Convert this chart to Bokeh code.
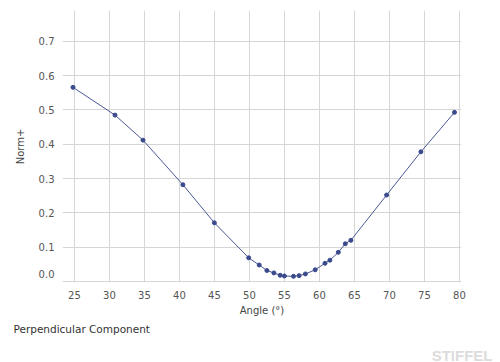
from bokeh.plotting import figure
from bokeh.models import FixedTicker, Range1d, Title
from bokeh.embed import file_html
from bokeh.resources import INLINE

# Data
angles = [24.8, 30.8, 34.8, 40.5, 45.0, 49.9, 51.4, 52.5, 53.5, 54.4, 55.0, 56.3,
          57.1, 58.0, 59.4, 60.8, 61.5, 62.7, 63.7, 64.5, 69.6, 74.5, 79.3]
norm_plus = [0.566, 0.485, 0.412, 0.282, 0.171, 0.069, 0.048, 0.032, 0.025, 0.018,
             0.016, 0.015, 0.017, 0.022, 0.034, 0.053, 0.062, 0.085, 0.110, 0.120,
             0.252, 0.378, 0.493]
x_ticks = [25, 30, 35, 40, 45, 50, 55, 60, 65, 70, 75, 80]
# the "0.0" label sits a little above the bottom edge in the reference
y_ticks = [0.023, 0.1, 0.2, 0.3, 0.4, 0.5, 0.6, 0.7]
y_tick_labels = {0.023: "0.0"}
y_grid = [0.0, 0.1, 0.2, 0.3, 0.4, 0.5, 0.6, 0.7]

title_text = "Perpendicular Component"
x_label = "Angle (°)"
y_label = "Norm+"
watermark = "STIFFEL"

FONT = "DejaVu Sans"
LINE_COLOR = "#4a5894"
MARK_COLOR = "#3b4a8c"
TICK_COLOR = "#555555"

p = figure(width=498, height=360, output_backend="svg", toolbar_location=None,
           x_range=Range1d(23.3, 80.3), y_range=Range1d(-0.003, 0.79),
           frame_width=399, frame_height=272,
           min_border_left=62, min_border_right=37, min_border_top=10,
           min_border_bottom=0)
p.outline_line_color = None
p.background_fill_color = "white"
p.border_fill_color = "white"

p.line(angles, norm_plus, line_color=LINE_COLOR, line_width=1)
p.scatter(angles, norm_plus, size=4, fill_color=MARK_COLOR, line_color=MARK_COLOR)

# Axes
p.xaxis.ticker = FixedTicker(ticks=x_ticks)
p.yaxis.ticker = FixedTicker(ticks=y_ticks)
p.yaxis.major_label_overrides = y_tick_labels
for ax in (p.xaxis[0], p.yaxis[0]):
    ax.axis_line_color = None
    ax.major_tick_line_color = None
    ax.minor_tick_line_color = None
    ax.major_tick_out = 0
    ax.major_tick_in = 0
    ax.major_label_text_font = FONT
    ax.major_label_text_font_size = "10px"
    ax.major_label_text_color = TICK_COLOR
    ax.major_label_standoff = 8
    ax.axis_label_text_font = FONT
    ax.axis_label_text_font_size = "10px"
    ax.axis_label_text_font_style = "normal"
    ax.axis_label_text_color = "#444444"
p.yaxis.axis_label = y_label
p.yaxis.axis_label_standoff = 10

# Grid
p.xgrid.ticker = FixedTicker(ticks=x_ticks)
p.ygrid.ticker = FixedTicker(ticks=y_grid)
p.xgrid.grid_line_color = "#d6d6d6"
p.ygrid.grid_line_color = "#d6d6d6"

# X-axis title, slightly right of centre as in the reference
p.add_layout(Title(text=x_label, align="center", offset=18, standoff=2,
                   text_font=FONT, text_font_size="10px", text_font_style="normal",
                   text_color="#444444"), "below")
# Chart title, bottom left
p.add_layout(Title(text=title_text, align="left", offset=-49, standoff=8,
                   text_font=FONT, text_font_size="10.5px", text_font_style="normal",
                   text_color="#333333"), "below")
# Watermark, bottom right
p.add_layout(Title(text=watermark, align="right", offset=-31, standoff=12,
                   text_font="Liberation Sans", text_font_size="15px",
                   text_font_style="bold", text_color="#dcdcdc"), "below")

open("out.html", "w").write(file_html(p, INLINE))
